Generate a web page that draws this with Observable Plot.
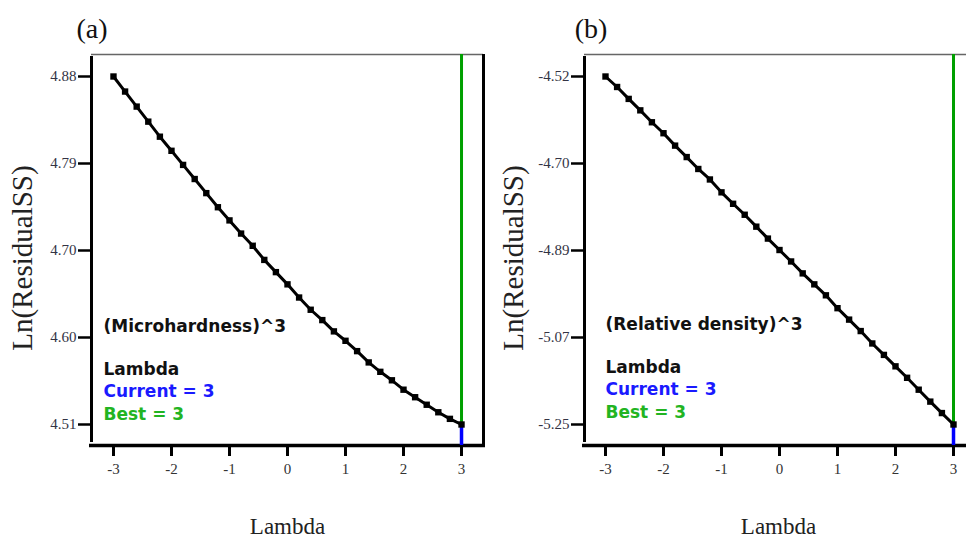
<!DOCTYPE html>
<html>
<head>
<meta charset="utf-8">
<script src="https://cdn.jsdelivr.net/npm/d3@7"></script>
<script src="https://cdn.jsdelivr.net/npm/@observablehq/plot@0.6"></script>
<style>
  html, body { margin: 0; padding: 0; background: #fff; }
  #wrap { position: relative; width: 966px; height: 543px; overflow: hidden; background: #fff; }
  #wrap > div { position: absolute; top: 0; }
</style>
</head>
<body>
<div id="wrap"><div id="pa" style="left:0"></div><div id="pb" style="left:490px"></div></div>
<script>
// ---- data ----
const lambdas = [-3.0,-2.8,-2.6,-2.4,-2.2,-2.0,-1.8,-1.6,-1.4,-1.2,-1.0,-0.8,-0.6,-0.4,-0.2,
                 0.0,0.2,0.4,0.6,0.8,1.0,1.2,1.4,1.6,1.8,2.0,2.2,2.4,2.6,2.8,3.0];
const lnSSA = [4.880,4.864,4.848,4.832,4.816,4.801,4.786,4.771,4.756,4.741,4.727,4.713,4.700,4.685,4.672,
               4.659,4.645,4.632,4.621,4.609,4.599,4.588,4.576,4.566,4.557,4.547,4.539,4.531,4.523,4.516,4.510];
const lnSSB = [-4.520,-4.542,-4.567,-4.591,-4.616,-4.639,-4.665,-4.689,-4.714,-4.736,-4.763,-4.787,-4.810,-4.835,-4.860,
               -4.884,-4.908,-4.933,-4.956,-4.979,-5.006,-5.030,-5.054,-5.080,-5.104,-5.128,-5.152,-5.177,-5.202,-5.226,-5.250];
const xTicks = [-3,-2,-1,0,1,2,3];
const xTickLabels = ["-3","-2","-1","0","1","2","3"];
const yTicksA = [4.51, 4.6025, 4.695, 4.7875, 4.88];
const yTickLabelsA = ["4.51","4.60","4.70","4.79","4.88"];
const yTicksB = [-5.25, -5.0675, -4.885, -4.7025, -4.52];
const yTickLabelsB = ["-5.25","-5.07","-4.89","-4.70","-4.52"];
const currentLambda = 3;
const bestLambda = 3;
const panelTitles = ["(a)", "(b)"];
const responseLabels = ["(Microhardness)^3", "(Relative density)^3"];

const serif = "'Liberation Serif', 'Times New Roman', serif";
const sans = "'DejaVu Sans', Verdana, sans-serif";

function panel(cfg) {
  const data = lambdas.map((l, i) => ({lambda: l, v: cfg.values[i]}));
  const vmin = d3.min(cfg.values);
  const xd = cfg.xDomain, yd = cfg.yDomain;
  const txt = (s, i, fill) => Plot.text([s], {frameAnchor: "top-left", dx: cfg.textDx, dy: cfg.textY[i] - 54,
    textAnchor: "start", lineAnchor: "bottom", fontFamily: sans, fontWeight: "bold", fontSize: 17, fill});
  const marks = [
    Plot.ruleY([yd[1]], {stroke: "#666", strokeWidth: 1.5}),
    Plot.ruleX([xd[0]], {stroke: "black", strokeWidth: 3, y1: yd[0], y2: yd[1], insetBottom: -2, insetTop: -3}),
    Plot.ruleY([yd[0]], {stroke: "black", strokeWidth: 3.5, insetLeft: -2, insetRight: -2}),
  ];
  if (cfg.rightBorder) marks.push(Plot.ruleX([xd[1]], {stroke: "black", strokeWidth: 3}));
  marks.push(
    Plot.axisX(xTicks, {tickSize: 11, tickPadding: 7, strokeWidth: 3, stroke: "black", fill: "#333", fontSize: 15, fontFamily: serif, label: null,
      tickFormat: d => xTickLabels[xTicks.indexOf(d)]}),
    Plot.axisY(cfg.yTicks, {tickSize: 13, tickPadding: 2, strokeWidth: 2.5, stroke: "black", fill: "#334", fontSize: 15, fontFamily: serif, label: null,
      tickFormat: d => cfg.yLabels[cfg.yTicks.indexOf(d)]}),
    Plot.ruleX([bestLambda], {y1: vmin, y2: yd[1], stroke: "#00a000", strokeWidth: 3}),
    Plot.ruleX([currentLambda], {y1: yd[0], y2: vmin, stroke: "#0000ff", strokeWidth: 3.5}),
    Plot.line(data, {x: "lambda", y: "v", stroke: "black", strokeWidth: 3}),
    Plot.dot(data, {x: "lambda", y: "v", symbol: "square", r: 3.6, fill: "black", stroke: "none"}),
    txt(cfg.response, 0, "#111"),
    txt("Lambda", 1, "#111"),
    txt(`Current = ${currentLambda}`, 2, "#1a1aff"),
    txt(`Best = ${bestLambda}`, 3, "#22b422"),
    Plot.text([cfg.title], {frameAnchor: "top-left", dx: cfg.titleDx, dy: -17, textAnchor: "middle", lineAnchor: "bottom", fontFamily: serif, fontSize: 28, fill: "#111"}),
    Plot.text(["Lambda"], {frameAnchor: "bottom", dx: cfg.xLabelDx, dy: 88, textAnchor: "middle", lineAnchor: "bottom", fontFamily: serif, fontSize: 23, fill: "#222"}),
    Plot.text(["Ln(ResidualSS)"], {frameAnchor: "left", dx: cfg.yLabelDx, dy: 8, rotate: -90, textAnchor: "middle", lineAnchor: "middle", fontFamily: serif, fontSize: 29, fill: "#222"})
  );
  return Plot.plot({
    width: cfg.width, height: 543,
    marginLeft: cfg.marginLeft, marginRight: cfg.marginRight, marginTop: 54, marginBottom: 98,
    x: {domain: xd, axis: null},
    y: {domain: yd, axis: null},
    style: {background: "transparent", overflow: "visible"},
    marks
  });
}

document.getElementById("pa").appendChild(panel({
  width: 490, marginLeft: 91, marginRight: 7,
  xDomain: [-3.379, 3.379], yDomain: [4.48767, 4.90339],
  values: lnSSA, yTicks: yTicksA, yLabels: yTickLabelsA,
  response: responseLabels[0], title: panelTitles[0],
  textDx: 12, textY: [331, 374, 396.5, 419], titleDx: 0.5, xLabelDx: 0, yLabelDx: -69, rightBorder: true
}));
document.getElementById("pb").appendChild(panel({
  width: 476, marginLeft: 94, marginRight: 0,
  xDomain: [-3.362, 3.224], yDomain: [-5.29405, -4.47385],
  values: lnSSB, yTicks: yTicksB, yLabels: yTickLabelsB,
  response: responseLabels[1], title: panelTitles[1],
  textDx: 21, textY: [329, 372, 394, 417], titleDx: 6.5, xLabelDx: 3, yLabelDx: -71, rightBorder: false
}));
</script>
</body>
</html>
